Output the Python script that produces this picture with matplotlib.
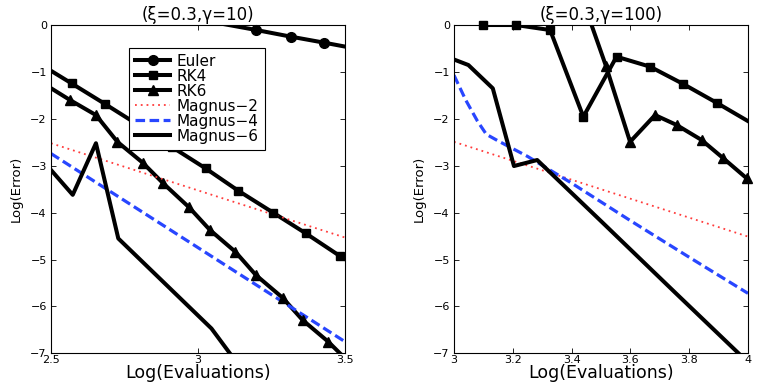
import numpy as np
import matplotlib.pyplot as plt

plt.rcParams["font.family"] = ["DejaVu Sans"]

# left panel (xi=0.3, gamma=10)
euler_x_10 = [3.00, 3.199, 3.316, 3.430, 3.543]
euler_y_10 = [0.12, -0.107, -0.248, -0.377, -0.51]
rk4_x_10 = [2.457, 2.570, 2.684, 2.797, 2.910, 3.026, 3.137, 3.256, 3.367, 3.483, 3.596]
rk4_y_10 = [-0.81, -1.244, -1.684, -2.13, -2.594, -3.056, -3.532, -4.001, -4.442, -4.925, -5.35]
rk6_x_10 = [2.47, 2.565, 2.653, 2.726, 2.812, 2.882, 2.970, 3.041, 3.127, 3.197, 3.288, 3.356, 3.443, 3.53]
rk6_y_10 = [-1.23, -1.60, -1.92, -2.49, -2.935, -3.376, -3.888, -4.371, -4.833, -5.330, -5.814, -6.29, -6.75, -7.29]
mag2_x_10 = [2.5, 3.5]
mag2_y_10 = [-2.52, -4.53]
mag4_x_10 = [2.5, 3.5]
mag4_y_10 = [-2.74, -6.75]
mag6_x_10 = [2.5, 2.574, 2.653, 2.729, 3.046, 3.15]
mag6_y_10 = [-3.09, -3.62, -2.52, -4.55, -6.47, -7.35]

# right panel (xi=0.3, gamma=100)
rk4_x_100 = [3.100, 3.211, 3.327, 3.440, 3.553, 3.667, 3.780, 3.893, 4.006]
rk4_y_100 = [0.0, 0.0, -0.107, -1.955, -0.675, -0.888, -1.258, -1.656, -2.07]
rk6_x_100 = [3.437, 3.517, 3.599, 3.684, 3.757, 3.842, 3.916, 3.996]
rk6_y_100 = [0.55, -0.874, -2.49, -1.92, -2.13, -2.45, -2.84, -3.27]
mag2_x_100 = [3.0, 4.0]
mag2_y_100 = [-2.49, -4.51]
mag4_x_100 = [3.0, 3.04, 3.08, 3.11, 3.15, 3.25, 3.4, 3.6, 3.8, 4.0]
mag4_y_100 = [-1.07, -1.6, -2.05, -2.33, -2.47, -2.80, -3.37, -4.17, -4.95, -5.72]
mag6_x_100 = [2.998, 3.049, 3.132, 3.204, 3.283, 3.5, 3.75, 4.02]
mag6_y_100 = [-0.73, -0.853, -1.35, -3.006, -2.878, -4.18, -5.69, -7.31]

BLUE = "#2846ff"
RED = "#ff3c3c"


def marked(ax, x, y, marker, ms, label=None):
    # line clipped to the box, markers drawn whole (like matlab)
    x = np.asarray(x)
    y = np.asarray(y)
    ax.plot(x, y, color="black", lw=2.9, solid_joinstyle="miter")
    x0, x1 = ax.get_xlim()
    y0, y1 = ax.get_ylim()
    inside = (x >= x0) & (x <= x1) & (y >= y0) & (y <= y1)
    ax.plot(x[inside], y[inside], ls="none", marker=marker, ms=ms,
            color="black", clip_on=False, zorder=3)
    if label:
        ax.plot([], [], color="black", lw=2.9, marker=marker, ms=ms, label=label)


def style(ax, xticks, title):
    ax.set_yticks(range(-7, 1))
    ax.set_xticks(xticks)
    ax.set_xticklabels([f"{t:g}" for t in xticks])
    ax.tick_params(direction="in", length=3.5, width=0.6, top=True, right=True,
                   labelsize=8, pad=1.5)
    ax.tick_params(axis="y", pad=3)
    for s in ax.spines.values():
        s.set_linewidth(0.8)
    ax.set_xlabel("Log(Evaluations)", fontsize=12.5, va="baseline")
    ax.xaxis.set_label_coords(0.5, -0.075)
    ax.set_ylabel("Log(Error)", fontsize=9.5, va="center")
    ax.yaxis.set_label_coords(-0.119, 0.5)
    ax.set_title(title, fontsize=12, pad=3.5)


fig = plt.figure(figsize=(7.63, 3.82), dpi=100)
ax1 = fig.add_axes([0.0668, 0.0749, 0.3853, 0.8596])
ax2 = fig.add_axes([0.595, 0.0749, 0.3853, 0.8596])

ax1.set_xlim(2.5, 3.5)
ax1.set_ylim(-7, 0)
marked(ax1, euler_x_10, euler_y_10, "o", 7, "Euler")
marked(ax1, rk4_x_10, rk4_y_10, "s", 6, "RK4")
marked(ax1, rk6_x_10, rk6_y_10, "^", 7, "RK6")
ax1.plot(mag2_x_10, mag2_y_10, color=RED, lw=1.3, dashes=(1, 2.2), label="Magnus−2")
ax1.plot(mag4_x_10, mag4_y_10, color=BLUE, lw=2.3, dashes=(3, 1.4), label="Magnus−4")
ax1.plot(mag6_x_10, mag6_y_10, color="black", lw=2.9, label="Magnus−6")
style(ax1, [2.5, 3, 3.5], "(ξ=0.3,γ=10)")

leg = ax1.legend(loc="upper left", bbox_to_anchor=(0.265, 0.931), fontsize=11,
                 frameon=True, fancybox=False, edgecolor="black", framealpha=1,
                 handlelength=2.3, handletextpad=0.45, labelspacing=0.0,
                 borderpad=0.4, borderaxespad=0)
leg.get_frame().set_linewidth(0.8)

ax2.set_xlim(3, 4)
ax2.set_ylim(-7, 0)
marked(ax2, rk4_x_100, rk4_y_100, "s", 6)
marked(ax2, rk6_x_100, rk6_y_100, "^", 7)
ax2.plot(mag2_x_100, mag2_y_100, color=RED, lw=1.3, dashes=(1, 2.2))
ax2.plot(mag4_x_100, mag4_y_100, color=BLUE, lw=2.3, dashes=(3, 1.4))
ax2.plot(mag6_x_100, mag6_y_100, color="black", lw=2.9)
style(ax2, [3, 3.2, 3.4, 3.6, 3.8, 4], "(ξ=0.3,γ=100)")

fig.savefig("out.png", dpi=100)
